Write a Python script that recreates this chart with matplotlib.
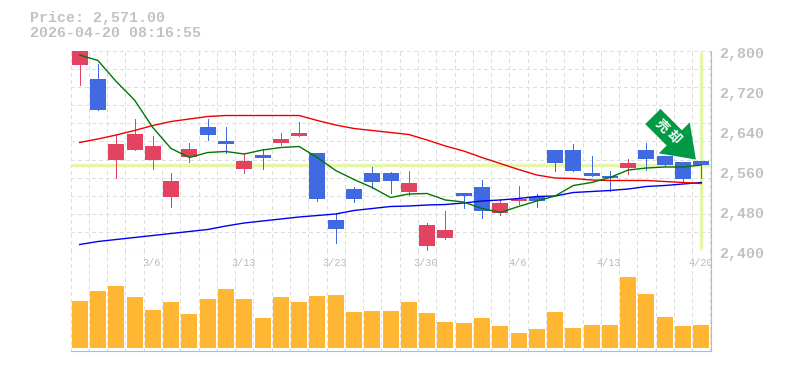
import matplotlib
matplotlib.use("Agg")
import matplotlib.pyplot as plt
import numpy as np
from matplotlib.patches import ArrowStyle

# daily candles
opens = [2771, 2743, 2581, 2601, 2581, 2507, 2587, 2647, 2619, 2563, 2591, 2615, 2629, 2595,
         2461, 2523, 2555, 2555, 2517, 2409, 2425, 2515, 2527, 2475, 2499, 2507, 2601, 2601,
         2555, 2549, 2565, 2601, 2589, 2577, 2579]
closes = [2799, 2681, 2613, 2633, 2609, 2539, 2603, 2631, 2613, 2579, 2585, 2623, 2635, 2503,
          2443, 2503, 2537, 2539, 2535, 2451, 2441, 2509, 2479, 2495, 2503, 2499, 2575, 2559,
          2549, 2545, 2575, 2583, 2571, 2543, 2571]
highs = [2801, 2773, 2633, 2663, 2629, 2555, 2615, 2663, 2647, 2593, 2603, 2635, 2657, 2595,
         2475, 2527, 2567, 2557, 2559, 2455, 2479, 2515, 2541, 2503, 2529, 2513, 2601, 2613,
         2589, 2559, 2583, 2615, 2589, 2577, 2579]
lows = [2731, 2681, 2546, 2601, 2563, 2487, 2577, 2621, 2595, 2555, 2563, 2611, 2629, 2499,
        2415, 2497, 2525, 2515, 2511, 2399, 2423, 2485, 2465, 2471, 2493, 2487, 2559, 2559,
        2549, 2520, 2553, 2561, 2569, 2539, 2545]

ma_short = [2791, 2780, 2738, 2701, 2646, 2604, 2586, 2596, 2598, 2593, 2601, 2606, 2608, 2586,
            2560, 2542, 2526, 2506, 2513, 2514, 2501, 2497, 2484, 2476, 2488, 2499, 2509, 2530,
            2536, 2546, 2561, 2565, 2567, 2567, 2571]
ma_mid = [2616, 2623, 2631, 2640, 2650, 2658, 2663, 2668, 2670, 2670, 2670, 2670, 2670, 2660,
          2651, 2644, 2640, 2636, 2632, 2621, 2609, 2599, 2586, 2574, 2562, 2551, 2545, 2544,
          2541, 2540, 2540, 2540, 2538, 2536, 2534]
ma_long = [2412, 2418, 2422, 2426, 2430, 2434, 2438, 2442, 2449, 2455, 2459, 2463, 2467, 2470,
           2473, 2480, 2484, 2488, 2489, 2491, 2492, 2495, 2499, 2501, 2504, 2508, 2509, 2516,
           2518, 2520, 2523, 2528, 2530, 2533, 2536]

volume = [141, 171, 186, 153, 114, 138, 102, 147, 177, 147, 90, 153, 138, 156, 159, 108, 111, 111,
          138, 105, 78, 75, 90, 66, 45, 57, 108, 60, 69, 69, 213, 162, 93, 66, 69]

date_pos = [4, 9, 14, 19, 24, 29, 34]
date_labels = ["3/6", "3/13", "3/23", "3/30", "4/6", "4/13", "4/20"]
price_ticks = [2400, 2480, 2560, 2640, 2720, 2800]
last_price = 2571

UP = "#e34260"
DOWN = "#4169e1"
GREY = "#bbbbbb"
TEXT = "#c2c2c2"
GRID = "#dddddd"

plt.rcParams["font.family"] = ["Liberation Mono", "Noto Sans CJK JP", "DejaVu Sans"]

W, H = 785, 370
fig = plt.figure(figsize=(W / 100, H / 100), dpi=100)
left, right = 70.5 / W, 710.5 / W
ax = fig.add_axes([left, 1 - 250.5 / H, right - left, 200 / H])
ax2 = fig.add_axes([left, 1 - 350.5 / H, right - left, 100 / H])

x = np.arange(len(closes))
for a in (ax, ax2):
    a.set_xlim(-0.5, len(closes) - 0.5)
    a.set_xticks(np.arange(-0.5, len(closes), 1))
    a.set_xticklabels([])
    a.tick_params(length=0, labelleft=False, labelbottom=False)
    a.grid(axis="x", color=GRID, lw=0.72, ls=(0, (3, 3)), zorder=0, antialiased=False)
    a.set_axisbelow(True)
    for s in a.spines.values():
        s.set_visible(False)
    a.spines["bottom"].set_visible(True)
    a.spines["right"].set_visible(True)
    a.spines["bottom"].set_color(GREY)
    a.spines["right"].set_color(GREY)

# price panel
ax.set_ylim(2400, 2800)
ax.set_yticks(np.linspace(2400, 2800, 12))
ax.set_yticklabels([])
ax.grid(axis="y", color=GRID, lw=0.72, ls=(0, (3, 3)), zorder=0, antialiased=False)

ax.axhline(last_price, color="#e4f6a9", lw=2.4, zorder=1)
ax.vlines(x[-1], 2404, 2798, color="#e4f6a9", lw=2.4, zorder=1)

colors = [UP if c >= o else DOWN for o, c in zip(opens, closes)]
ax.vlines(x, lows, highs, colors=colors, lw=0.72, zorder=2, antialiased=False)
body = np.abs(np.array(closes) - np.array(opens))
ax.bar(x, body, bottom=np.minimum(opens, closes), width=0.875, color=colors, zorder=2)

ax.plot(x, ma_long, color="#0000ee", lw=1, zorder=3)
ax.plot(x, ma_mid, color="#ee0000", lw=1, zorder=3)
ax.plot(x, ma_short, color="#007700", lw=1, zorder=3)

for p in price_ticks:
    ax.annotate(f"{p:,}", xy=(1, p), xycoords=ax.get_yaxis_transform(), xytext=(8.5, -3.5),
                textcoords="offset pixels", color=TEXT, fontsize=10.8, fontweight="bold",
                ha="left", va="center", annotation_clip=False)

# green signal arrow
tip = (x[-1] - 0.3, last_price + 11)
arrow = ArrowStyle("simple", head_length=22, head_width=31.5, tail_width=15.5)
ax.annotate("", xy=tip, xytext=(-43, 43), textcoords="offset pixels",
            arrowprops=dict(arrowstyle=arrow, mutation_scale=1, color="#009944", lw=0,
                            shrinkA=0, shrinkB=0), zorder=5)
for ch, off in zip("売却", [(-35, 33), (-23, 22)]):
    ax.annotate(ch, xy=tip, xytext=off, textcoords="offset pixels", color="white",
                fontsize=9.5, fontweight="bold", rotation=-45, ha="center", va="center",
                rotation_mode="anchor", zorder=6)

# volume panel
ax2.set_ylim(-7.5, 292.5)
ax2.set_yticks([])
ax2.bar(x, volume, width=0.875, color="#ffb733", zorder=2)
for i, lab in zip(date_pos, date_labels):
    ax2.annotate(lab, xy=(i, 1), xycoords=ax2.get_xaxis_transform(), xytext=(-1, -12),
                 textcoords="offset pixels", color=GREY, fontsize=7.4, ha="center", va="center",
                 annotation_clip=False, zorder=3)

fig.text(30 / W, 1 - 18 / H, "Price: 2,571.00", color=TEXT, fontsize=10.8, fontweight="bold", va="center")
fig.text(30 / W, 1 - 33 / H, "2026-04-20 08:16:55", color=TEXT, fontsize=10.8, fontweight="bold", va="center")

fig.savefig("out.png", dpi=100)
